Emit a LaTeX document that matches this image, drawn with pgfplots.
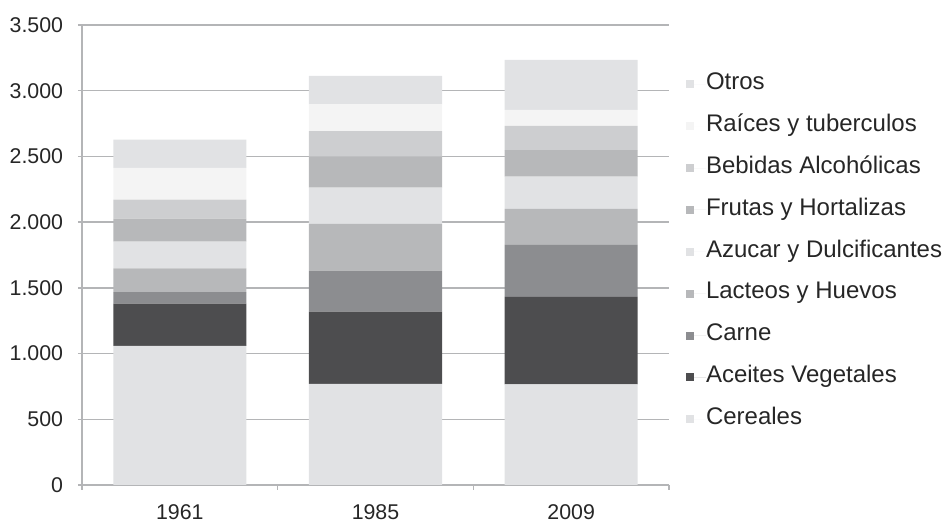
\documentclass[border=0pt]{standalone}
\usepackage{pgfplots}
\pgfplotsset{compat=1.18}
\usepackage{fontspec}
\setmainfont{Liberation Sans}

\definecolor{gridgray}{HTML}{B4B5B7}
\definecolor{cLight}{HTML}{E1E2E4}
\definecolor{cDark}{HTML}{4D4D4F}
\definecolor{cMid}{HTML}{8C8D90}
\definecolor{cGray}{HTML}{B7B8BA}
\definecolor{cBeb}{HTML}{CDCED0}
\definecolor{cWhite}{HTML}{F4F4F4}

% kcal por categoria: 1961, 1985, 2009
\pgfplotstableread{
x  cer  ace  car  lac  azu  fru  beb  rai  otr
0  1058 322  88   180  203  175  146  241  215
1  769  550  312  355  276  236  195  203  216
2  766  665  396  274  246  201  185  122  380
}\datatable

\begin{document}
\begin{tikzpicture}
\useasboundingbox (-61.5pt,-29.25pt) rectangle (647.25pt,363.75pt);
\begin{axis}[
    at={(0pt,0pt)}, anchor=south west,
    scale only axis,
    width=440.25pt, height=345pt,
    ybar stacked,
    bar width=0.68,
    xmin=-0.5, xmax=2.5,
    ymin=0, ymax=3500,
    xtick={0,1,2},
    xticklabels={1961,1985,2009},
    minor xtick={-0.5,0.5,1.5,2.5},
    ytick={0,500,...,3500},
    axis lines*=left,
    axis line style={gridgray, line width=1pt},
    tick align=outside,
    major tick length=3pt,
    minor tick length=3.5pt,
    x tick style={draw=none},
    minor x tick style={draw=gridgray, line width=1pt},
    y tick style={gridgray, line width=1pt},
    ymajorgrids,
    major grid style={gridgray, line width=1pt},
    /pgf/number format/.cd, 1000 sep={.}, assume math mode=true,
    /pgfplots/.cd,
    tick label style={font=\fontsize{16}{19}\selectfont, text=black!85},
    yticklabel style={inner sep=0pt, xshift=-11pt},
    xticklabel style={inner sep=0pt, anchor=base, yshift=-23.25pt},
    reverse legend,
    legend cell align=left,
    legend style={
        draw=none, fill=none,
        at={(1.029,0.507)}, anchor=west,
        inner sep=0pt, outer sep=0pt,
        row sep=15.4pt, column sep=0pt,
        font=\fontsize{18}{21}\selectfont,
        nodes={inner sep=0pt, text height=12pt, text depth=4pt, text=black!85},
    },
    legend image code/.code={
        \fill[#1] (0pt,-3pt) rectangle (6pt,3pt);
        \path (0pt,0pt) -- (15pt,0pt);
    },
]
\addplot[fill=cLight, draw=none] table[x=x, y=cer] {\datatable};
\addplot[fill=cDark,  draw=none] table[x=x, y=ace] {\datatable};
\addplot[fill=cMid,   draw=none] table[x=x, y=car] {\datatable};
\addplot[fill=cGray,  draw=none] table[x=x, y=lac] {\datatable};
\addplot[fill=cLight, draw=none] table[x=x, y=azu] {\datatable};
\addplot[fill=cGray,  draw=none] table[x=x, y=fru] {\datatable};
\addplot[fill=cBeb,   draw=none] table[x=x, y=beb] {\datatable};
\addplot[fill=cWhite, draw=none] table[x=x, y=rai] {\datatable};
\addplot[fill=cLight, draw=none] table[x=x, y=otr] {\datatable};
\legend{Cereales, Aceites Vegetales, Carne, Lacteos y Huevos, Azucar y Dulcificantes, Frutas y Hortalizas, Bebidas Alcohólicas, Raíces y tuberculos, Otros}
\end{axis}
\end{tikzpicture}
\end{document}
